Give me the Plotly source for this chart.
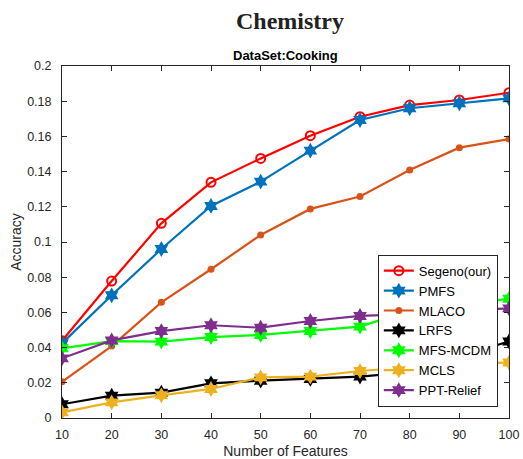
import plotly.graph_objects as go

features = [10, 20, 30, 40, 50, 60, 70, 80, 90, 100]

segeno = [0.0439, 0.0778, 0.1106, 0.1339, 0.1475, 0.1604, 0.1712, 0.1778, 0.1807, 0.1848]
pmfs = [0.0424, 0.0697, 0.0960, 0.1205, 0.1343, 0.1519, 0.1693, 0.1760, 0.1788, 0.1816]
mlaco = [0.0206, 0.0409, 0.0657, 0.0845, 0.1040, 0.1188, 0.1258, 0.1409, 0.1536, 0.1585]
lrfs = [0.0078, 0.0127, 0.0144, 0.0197, 0.0212, 0.0222, 0.0235, 0.0260, 0.0350, 0.0435]
mfs_mcdm = [0.0396, 0.0437, 0.0434, 0.0460, 0.0472, 0.0494, 0.0519, 0.0610, 0.0640, 0.0678]
mcls = [0.0032, 0.0089, 0.0129, 0.0165, 0.0231, 0.0235, 0.0267, 0.0290, 0.0310, 0.0315]
ppt_relief = [0.0339, 0.0441, 0.0494, 0.0527, 0.0513, 0.0551, 0.0580, 0.0590, 0.0610, 0.0623]

series_names = ["Segeno(our)", "PMFS", "MLACO", "LRFS", "MFS-MCDM", "MCLS", "PPT-Relief"]
series_values = [segeno, pmfs, mlaco, lrfs, mfs_mcdm, mcls, ppt_relief]
colors = ["#FF0000", "#0072BD", "#D95319", "#000000", "#00FF00", "#EDB120", "#7E2F8E"]
symbols = ["circle-open", "hexagram", "circle", "hexagram", "hexagram", "hexagram", "hexagram"]
sizes = [9, 12, 7, 12, 12, 12, 12]

y_ticks = [0, 0.02, 0.04, 0.06, 0.08, 0.1, 0.12, 0.14, 0.16, 0.18, 0.2]
y_tick_labels = ["0", "0.02", "0.04", "0.06", "0.08", "0.1", "0.12", "0.14", "0.16", "0.18", "0.2"]
x_ticks = features

fig = go.Figure()
for name, vals, col, sym, sz in zip(series_names, series_values, colors, symbols, sizes):
    marker = dict(symbol=sym, size=sz, color=col)
    if sym == "circle-open":
        marker["line"] = dict(color=col, width=2)
    else:
        marker["line"] = dict(color=col, width=0)
    fig.add_trace(go.Scatter(x=features, y=vals, name=name, mode="lines+markers",
                             line=dict(color=col, width=2.2), marker=marker))

tick_font = dict(family="Liberation Sans, Arial", size=12.5, color="#262626")
axis_common = dict(showline=True, linecolor="#262626", linewidth=1, mirror="ticks",
                   ticks="inside", ticklen=5, tickcolor="#262626", showgrid=False,
                   zeroline=False, automargin=False, tickfont=tick_font)

fig.update_xaxes(range=[10, 100], tickvals=x_ticks, ticklabelstandoff=5,
                 title=dict(text="Number of Features", font=dict(family="Liberation Sans, Arial", size=14, color="#262626"), standoff=12),
                 **axis_common)
fig.update_yaxes(range=[0, 0.2], tickvals=y_ticks, ticktext=y_tick_labels, ticklabelstandoff=7,
                 title=dict(text="Accuracy", font=dict(family="Liberation Sans, Arial", size=14, color="#262626"), standoff=2),
                 **axis_common)

fig.update_layout(
    width=523, height=459,
    margin=dict(l=62, r=14, t=66, b=41, autoexpand=False),
    paper_bgcolor="white", plot_bgcolor="white",
    showlegend=True,
    legend=dict(x=0.975, y=0.032, xanchor="right", yanchor="bottom",
                bgcolor="white", bordercolor="#262626", borderwidth=1,
                font=dict(family="Liberation Sans, Arial", size=13, color="#000000"),
                tracegroupgap=0, itemwidth=30),
    annotations=[
        dict(text="<b>Chemistry</b>", xref="paper", yref="paper", x=0.511, y=1.0, yshift=45,
             xanchor="center", yanchor="middle", showarrow=False,
             font=dict(family="Liberation Serif, Times New Roman", size=24, color="#222222")),
        dict(text="<b>DataSet:Cooking</b>", xref="paper", yref="paper", x=0.5, y=1.0, yshift=11,
             xanchor="center", yanchor="middle", showarrow=False,
             font=dict(family="Liberation Sans, Arial", size=13, color="#000000")),
    ],
)

fig.write_html("out.html")
